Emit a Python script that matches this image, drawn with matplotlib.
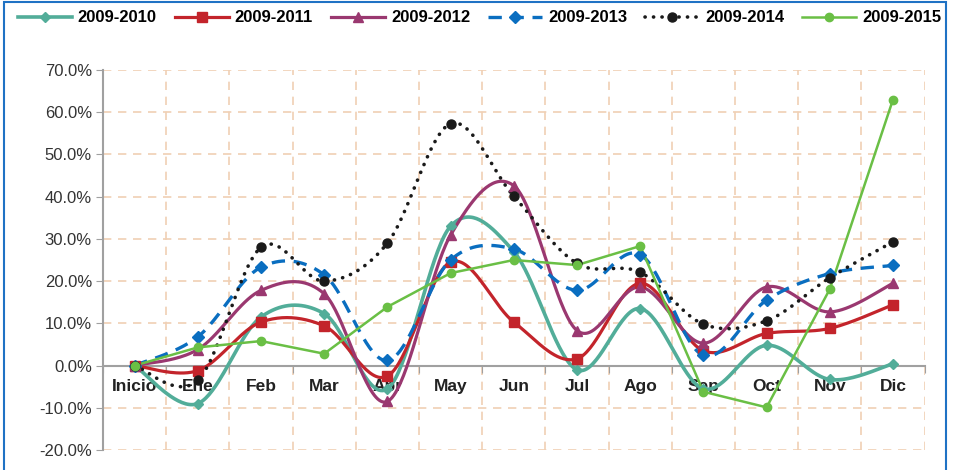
import numpy as np
import matplotlib
matplotlib.use("Agg")
import matplotlib.pyplot as plt
from matplotlib.lines import Line2D
from matplotlib.patches import Rectangle
from matplotlib.ticker import FuncFormatter

plt.rcParams['font.family'] = ['Liberation Sans', 'DejaVu Sans']

meses = ['Inicio', 'Ene', 'Feb', 'Mar', 'Abr', 'May', 'Jun', 'Jul', 'Ago', 'Sep', 'Oct', 'Nov', 'Dic']

s2010 = [0, -9.0, 11.5, 12.3, -5.5, 33.0, 27.0, -1.0, 13.5, -5.5, 4.8, -3.3, 0.4]
s2011 = [0, -1.2, 10.3, 9.4, -2.5, 24.5, 10.3, 1.6, 19.5, 3.5, 7.6, 8.8, 14.4]
s2012 = [0, 3.8, 17.8, 17.0, -8.5, 30.9, 42.6, 8.3, 18.6, 5.3, 18.6, 12.7, 19.5]
s2013 = [0, 6.8, 23.3, 21.5, 1.2, 25.0, 27.6, 17.8, 26.3, 2.4, 15.5, 21.8, 23.7]
s2014 = [0, -3.5, 28.0, 20.0, 29.0, 57.3, 40.1, 24.2, 22.1, 9.8, 10.6, 20.8, 29.3]
s2015 = [0, 4.3, 5.8, 2.8, 13.9, 21.9, 25.0, 23.8, 28.3, -6.2, -9.9, 18.1, 63.0]

series = [
    ('2009-2010', s2010, '#52AD99', 'D', 5.5, '-', True, 2.6),
    ('2009-2011', s2011, '#C3242B', 's', 6.5, '-', True, 2.3),
    ('2009-2012', s2012, '#9A3870', '^', 7.5, '-', True, 2.3),
    ('2009-2013', s2013, '#0A6EC0', 'D', 6.5, (0, (4, 2.6)), True, 2.4),
    ('2009-2014', s2014, '#1A1A1A', 'o', 6.5, (0, (0.05, 2.3)), True, 2.6),
    ('2009-2015', s2015, '#6ABF45', 'o', 6, '-', False, 1.8),
]


def smooth(y, n=40):
    # curva tipo Excel (Catmull-Rom con control a 1/6)
    p = np.column_stack([np.arange(len(y)), np.asarray(y, float)])
    p = np.vstack([p[:1], p, p[-1:]])
    out = []
    t = np.linspace(0, 1, n)[:, None]
    for i in range(1, len(p) - 2):
        p0, p1, p2, p3 = p[i - 1], p[i], p[i + 1], p[i + 2]
        c1 = p1 + (p2 - p0) / 6
        c2 = p2 - (p3 - p1) / 6
        seg = ((1 - t) ** 3) * p1 + 3 * ((1 - t) ** 2) * t * c1 + 3 * (1 - t) * t ** 2 * c2 + t ** 3 * p2
        out.append(seg if i == 1 else seg[1:])
    out = np.vstack(out)
    return out[:, 0], out[:, 1]


fig = plt.figure(figsize=(9.56, 4.70), dpi=100)
ax = fig.add_axes([103 / 956, 1 - 450 / 470, (924.6 - 103) / 956, 380 / 470])

x = np.arange(len(meses))
handles = []
for name, vals, col, mk, ms, ls, smo, lw in series:
    if smo:
        xs, ys = smooth(vals)
    else:
        xs, ys = x, vals
    cap = 'round' if name == '2009-2014' else 'butt'
    ax.plot(xs, ys, color=col, lw=lw, ls=ls, dash_capstyle=cap, solid_capstyle='round', zorder=3)
    ax.plot(x, vals, ls='none', marker=mk, ms=ms, color=col, mec=col, zorder=4)
    handles.append(Line2D([], [], color=col, lw=lw, ls=ls, dash_capstyle=cap,
                          marker=mk, ms=ms, mec=col))

ax.set_xlim(-0.5, 12.5)
ax.set_ylim(-20, 70)
ax.set_yticks(np.arange(-20, 71, 10))
ax.yaxis.set_major_formatter(FuncFormatter(lambda v, p: f'{v:.1f}%'))

ax.set_xticks(np.arange(-0.5, 12.6, 1))
ax.set_xticklabels([])
ax.set_xticks(x, labels=meses, minor=True)
ax.tick_params(axis='x', which='minor', length=0, pad=10, labelsize=12.5, labelcolor='#222222')
ax.tick_params(axis='x', which='major', length=5, color='#A0A0A0', direction='out')
ax.tick_params(axis='y', length=5, color='#A0A0A0', labelsize=12, labelcolor='#333333', pad=3)

ax.grid(True, which='major', color='#F0D0B4', lw=1.2, ls=(0, (5, 4)), zorder=0)

for s in ['top', 'right']:
    ax.spines[s].set_visible(False)
ax.spines['bottom'].set_position(('data', 0))
ax.spines['bottom'].set_color('#A0A0A0')
ax.spines['bottom'].set_linewidth(1.5)
ax.spines['left'].set_color('#A0A0A0')
ax.spines['left'].set_linewidth(1.5)
ax.set_axisbelow(True)

fig.legend(handles, [s[0] for s in series], loc='center left', ncol=6,
           bbox_to_anchor=(11 / 956, 1 - 18 / 470), frameon=False,
           prop={'weight': 'bold', 'size': 12}, handlelength=3.25,
           handletextpad=0.35, columnspacing=1.08, numpoints=1, borderaxespad=0)

fig.patches.append(Rectangle((4 / 956, -0.1), (946 - 4) / 956, 1.1 - 1.5 / 470,
                             transform=fig.transFigure, fill=False,
                             edgecolor='#1F72C4', lw=1.5, zorder=10))

fig.canvas.draw()
for lbl in ax.get_xticklabels(minor=True):
    lbl.set_fontweight('bold')

fig.savefig('out.png', dpi=100)
